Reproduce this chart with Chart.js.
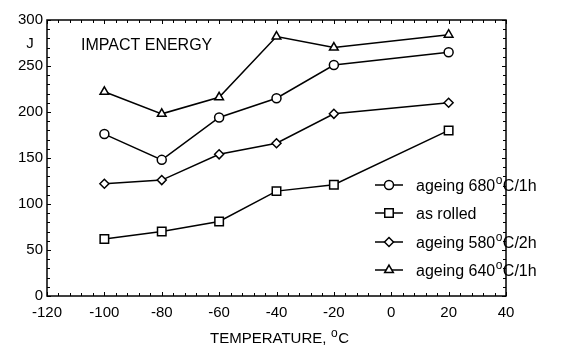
<!DOCTYPE html>
<html>
<head>
<meta charset="utf-8">
<script src="https://cdn.jsdelivr.net/npm/chart.js@4/dist/chart.umd.min.js"></script>
<style>
  html, body { margin: 0; padding: 0; background: #fff; }
  #wrap { width: 567px; height: 350px; }
</style>
</head>
<body>
<div id="wrap"><canvas id="c" width="567" height="350"></canvas></div>
<script>
// Test temperatures, °C
const temperatures = [-100, -80, -60, -40, -20, 20];

// Impact energy, J
const ageing680 = [176, 148, 194, 215, 251, 265];
const asRolled  = [62, 70, 81, 114, 121, 180];
const ageing580 = [122, 126, 154, 166, 198, 210];
const ageing640 = [222, 198, 216, 282, 270, 284];

// Axis ticks
const xTicks = [-120, -100, -80, -60, -40, -20, 0, 20, 40];
const yTicks = [0, 50, 100, 150, 200, 250, 300];

const FONT = '"Liberation Sans", Arial, sans-serif';

function pts(vals) { return temperatures.map((t, i) => ({ x: t, y: vals[i] })); }

const series = [
  { label: 'ageing 680|C/1h', data: ageing680, style: 'circle', r: 4.5 },
  { label: 'as rolled', data: asRolled, style: 'rect', r: 6 },
  { label: 'ageing 580|C/2h', data: ageing580, style: 'rectRot', r: 4.5 },
  { label: 'ageing 640|C/1h', data: ageing640, style: 'triangle', r: 5 }
];

// Text with a raised small "o" for the degree sign (marked by "|")
function drawDegText(ctx, text, x, y, size) {
  const parts = text.split('|');
  ctx.font = size + 'px ' + FONT;
  ctx.textAlign = 'left';
  ctx.textBaseline = 'alphabetic';
  ctx.fillText(parts[0], x, y);
  let cx = x + ctx.measureText(parts[0]).width;
  if (parts.length > 1) {
    ctx.font = Math.round(size * 0.78) + 'px ' + FONT;
    ctx.fillText('o', cx + 0.5, y - size * 0.42);
    cx += ctx.measureText('o').width + 1;
    ctx.font = size + 'px ' + FONT;
    ctx.fillText(parts[1], cx, y);
  }
}

const framePlugin = {
  id: 'frame',
  afterDraw(chart) {
    const ctx = chart.ctx;
    const a = chart.chartArea;
    const xs = chart.scales.x, ys = chart.scales.y;
    ctx.save();
    ctx.strokeStyle = '#000';
    ctx.lineWidth = 1.5;
    ctx.strokeRect(a.left, a.top, a.right - a.left, a.bottom - a.top);

    // inward ticks on all four sides
    ctx.lineWidth = 1;
    ctx.beginPath();
    for (let v = -120; v <= 40; v += 4) {
      const px = Math.round(xs.getPixelForValue(v)) + 0.5;
      const len = (v % 20 === 0) ? 4 : 3;
      ctx.moveTo(px, a.bottom); ctx.lineTo(px, a.bottom - len);
      ctx.moveTo(px, a.top); ctx.lineTo(px, a.top + len);
    }
    for (let v = 0; v <= 300; v += 10) {
      const py = Math.round(ys.getPixelForValue(v)) + 0.5;
      const len = (v % 50 === 0) ? 4 : 3;
      ctx.moveTo(a.left, py); ctx.lineTo(a.left + len, py);
      ctx.moveTo(a.right, py); ctx.lineTo(a.right - len, py);
    }
    ctx.stroke();

    ctx.fillStyle = '#000';
    // y unit
    ctx.font = '15px ' + FONT;
    ctx.textAlign = 'center';
    ctx.fillText('J', 30, 48);
    // panel caption
    ctx.font = '16px ' + FONT;
    ctx.textAlign = 'left';
    ctx.fillText('IMPACT ENERGY', 81, 50);
    // x title
    drawDegText(ctx, 'TEMPERATURE, |C', 210, 343, 15);

    // legend
    const lx0 = 375, lx1 = 403, tx = 416;
    const ly = [185, 213, 242, 270];
    series.forEach((s, i) => {
      const y = ly[i];
      ctx.strokeStyle = '#000';
      ctx.lineWidth = 1.5;
      ctx.beginPath(); ctx.moveTo(lx0, y); ctx.lineTo(lx1, y); ctx.stroke();
      ctx.fillStyle = '#fff';
      Chart.helpers.drawPoint(ctx, { pointStyle: s.style, radius: s.r, borderWidth: 1.5 }, (lx0 + lx1) / 2, y);
      ctx.fillStyle = '#000';
      drawDegText(ctx, s.label, tx, y + 6, 16);
    });
    ctx.restore();
  }
};

new Chart(document.getElementById('c'), {
  type: 'line',
  data: {
    datasets: series.map(s => ({
      label: s.label,
      data: pts(s.data),
      borderColor: '#000',
      borderWidth: 1.5,
      backgroundColor: '#fff',
      pointStyle: s.style,
      pointRadius: s.r,
      pointBorderWidth: 1.5,
      pointBackgroundColor: '#fff',
      pointBorderColor: '#000',
      tension: 0
    }))
  },
  options: {
    responsive: false,
    animation: false,
    devicePixelRatio: 1,
    layout: { padding: { top: 20, right: 61, left: 0, bottom: 0 } },
    plugins: { legend: { display: false }, tooltip: { enabled: false } },
    scales: {
      x: {
        type: 'linear',
        min: -120, max: 40,
        afterBuildTicks: s => { s.ticks = xTicks.map(v => ({ value: v })); },
        afterFit: s => { s.height = 54; },
        grid: { display: false },
        border: { display: false },
        ticks: { color: '#000', font: { family: FONT, size: 15 }, padding: 0, maxRotation: 0 }
      },
      y: {
        min: 0, max: 300,
        afterBuildTicks: s => { s.ticks = yTicks.map(v => ({ value: v })); },
        afterFit: s => { s.width = 47; },
        grid: { display: false },
        border: { display: false },
        ticks: { color: '#000', font: { family: FONT, size: 15 }, padding: -4 }
      }
    }
  },
  plugins: [framePlugin]
});
</script>
</body>
</html>
